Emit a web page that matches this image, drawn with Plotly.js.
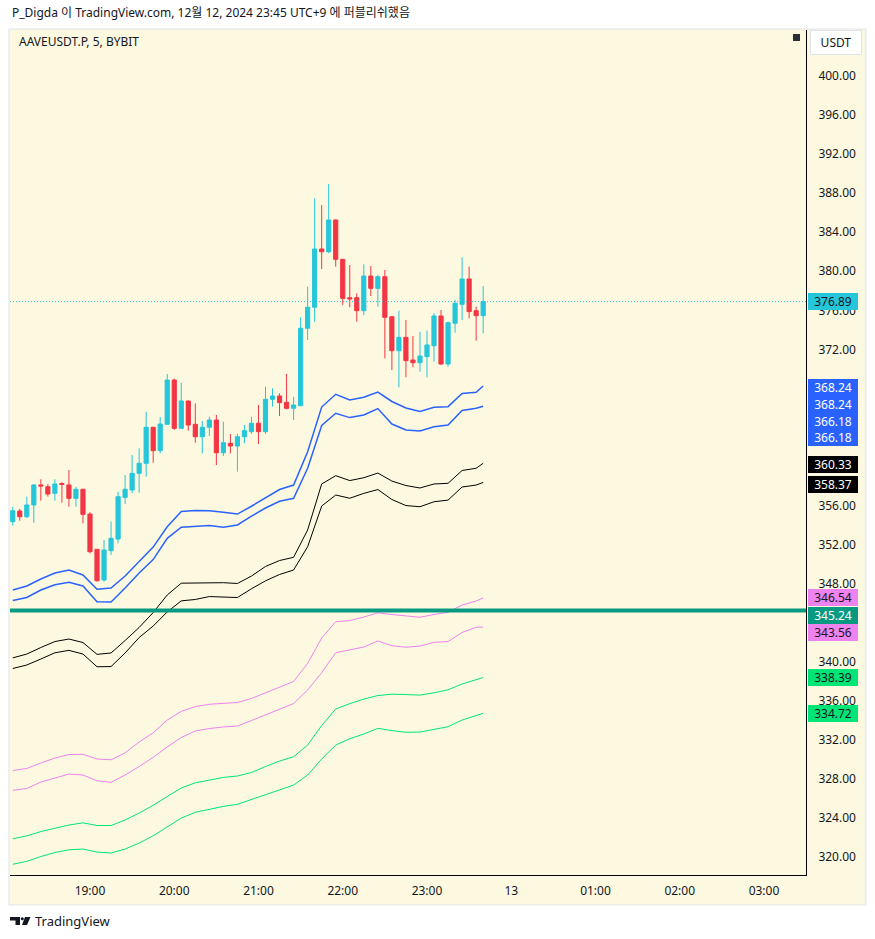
<!DOCTYPE html>
<html>
<head>
<meta charset="utf-8">
<script src="https://cdn.plot.ly/plotly-3.0.1.min.js"></script>
<style>
  html, body { margin: 0; padding: 0; background: #ffffff; }
  #chart { width: 875px; height: 939px; }
</style>
</head>
<body>
<div id="chart"></div>
<script>
// 5-minute bars, AAVEUSDT.P (BYBIT), 12 Dec 2024
const barTimes = ('18:05 18:10 18:15 18:20 18:25 18:30 18:35 18:40 18:45 18:50 18:55 ' +
  '19:00 19:05 19:10 19:15 19:20 19:25 19:30 19:35 19:40 19:45 19:50 19:55 ' +
  '20:00 20:05 20:10 20:15 20:20 20:25 20:30 20:35 20:40 20:45 20:50 20:55 ' +
  '21:00 21:05 21:10 21:15 21:20 21:25 21:30 21:35 21:40 21:45 21:50 21:55 ' +
  '22:00 22:05 22:10 22:15 22:20 22:25 22:30 22:35 22:40 22:45 22:50 22:55 ' +
  '23:00 23:05 23:10 23:15 23:20 23:25 23:30 23:35 23:40').split(' ');

const open = [354.35, 355.44, 354.86, 356.06, 358.11, 357.93, 357.26, 358.26, 358.11, 356.74, 357.67,
  355.13, 351.52, 348.37, 351.38, 352.57, 356.83, 357.59, 359.30, 360.33, 364.02, 361.62, 364.32,
  368.86, 363.91, 366.71, 364.32, 363.05, 364.02, 364.76, 361.41, 362.38, 362.10, 363.05, 363.57,
  364.43, 363.57, 366.88, 367.22, 366.58, 365.96, 366.23, 374.16, 376.31, 382.28, 382.00, 385.25,
  381.22, 377.29, 377.29, 375.96, 379.51, 378.25, 379.44, 375.34, 371.86, 373.23, 370.91, 370.63,
  371.25, 372.37, 375.42, 370.50, 374.67, 376.61, 379.21, 375.96, 375.45];
const high = [355.88, 355.65, 356.91, 358.21, 358.69, 358.21, 358.69, 358.38, 359.64, 357.93, 357.70,
  355.31, 351.55, 352.47, 354.35, 357.42, 359.13, 361.18, 361.86, 365.61, 364.05, 365.07, 369.48,
  369.00, 368.58, 366.75, 366.47, 364.66, 365.10, 365.28, 364.59, 363.33, 363.33, 364.25, 365.10,
  366.30, 368.17, 368.01, 367.50, 369.48, 367.15, 375.28, 378.42, 387.47, 386.79, 388.94, 385.30,
  381.25, 380.64, 377.74, 380.71, 380.54, 379.62, 380.13, 375.36, 375.96, 375.01, 373.37, 373.81,
  373.91, 375.69, 376.03, 374.83, 377.06, 381.43, 380.47, 376.37, 378.49];
const low = [353.94, 354.45, 354.73, 354.24, 356.50, 356.91, 356.50, 356.29, 355.88, 355.88, 354.18,
  351.11, 348.22, 348.20, 350.94, 352.13, 356.16, 357.26, 357.32, 358.96, 360.39, 361.35, 364.30,
  363.74, 363.88, 363.67, 362.44, 361.35, 363.13, 360.15, 361.08, 361.35, 359.47, 362.38, 363.33,
  362.31, 363.33, 366.13, 365.17, 365.86, 364.76, 366.20, 372.96, 374.83, 380.23, 381.84, 380.47,
  376.54, 376.31, 374.83, 375.52, 377.46, 376.37, 371.08, 369.88, 368.11, 369.14, 370.16, 369.71,
  369.14, 370.74, 370.40, 370.22, 373.71, 375.01, 375.18, 372.89, 373.64];
const close = [355.47, 354.86, 356.06, 358.11, 358.00, 357.18, 358.21, 358.16, 356.74, 357.67, 355.10,
  351.27, 348.30, 351.45, 352.65, 356.91, 357.67, 359.30, 360.33, 364.02, 361.62, 364.35, 368.86,
  363.91, 366.71, 364.25, 363.05, 364.02, 364.76, 361.41, 362.44, 362.10, 363.05, 363.67, 364.43,
  363.57, 366.88, 367.22, 366.54, 365.96, 366.30, 374.16, 376.31, 382.28, 382.00, 385.25, 381.22,
  377.23, 377.16, 375.96, 379.51, 378.25, 379.44, 375.28, 371.86, 373.23, 370.84, 370.63, 371.32,
  372.45, 375.42, 370.50, 374.73, 376.72, 379.21, 375.86, 375.45, 376.89];

// band readings, one every 10 minutes plus the last bar
const bandTimes = ('18:05 18:15 18:25 18:35 18:45 18:55 19:05 19:15 19:25 19:35 19:45 19:55 ' +
  '20:05 20:15 20:25 20:35 20:45 20:55 21:05 21:15 21:25 21:35 21:45 21:55 ' +
  '22:05 22:15 22:25 22:35 22:45 22:55 23:05 23:15 23:25 23:35 23:40').split(' ');

const blueUpper = [347.35, 347.76, 348.48, 349.09, 349.40, 348.89, 347.42, 347.55, 348.78, 350.22, 351.75, 353.83,
  355.39, 355.49, 355.47, 355.31, 355.13, 355.93, 356.77, 357.64, 358.10, 361.52, 366.09, 367.40,
  366.81, 367.09, 367.63, 366.66, 365.99, 365.63, 366.06, 366.13, 367.48, 367.60, 368.24];
const blueLower = [346.27, 346.58, 347.35, 347.89, 348.14, 347.76, 346.15, 346.12, 347.55, 349.09, 350.47, 352.64,
  353.78, 353.85, 353.96, 353.78, 354.01, 354.91, 355.75, 356.44, 356.74, 359.82, 364.20, 365.45,
  365.01, 365.28, 365.93, 364.35, 363.74, 363.64, 364.08, 364.24, 365.74, 365.96, 366.18];
const blackUpper = [340.40, 340.79, 341.46, 342.07, 342.33, 341.97, 340.76, 340.90, 342.18, 343.51, 345.04, 346.84,
  348.05, 348.09, 348.12, 348.10, 348.02, 348.78, 349.76, 350.37, 350.70, 353.50, 358.21, 359.06,
  358.56, 358.85, 359.33, 358.51, 358.05, 357.80, 358.21, 358.28, 359.59, 359.82, 360.33];
const blackLower = [339.31, 339.67, 340.28, 340.92, 341.17, 340.79, 339.49, 339.51, 340.90, 342.48, 343.66, 345.10,
  346.24, 346.38, 346.68, 346.60, 346.58, 347.48, 348.29, 348.94, 349.40, 351.78, 355.95, 357.08,
  356.75, 357.25, 357.64, 356.62, 356.00, 355.88, 356.39, 356.56, 357.90, 358.10, 358.37];
const violetUpper = [328.86, 329.07, 329.63, 330.14, 330.50, 330.52, 330.04, 329.96, 330.67, 331.78, 332.73, 334.03,
  334.92, 335.41, 335.65, 335.75, 335.83, 336.24, 336.80, 337.44, 337.98, 339.84, 342.43, 344.10,
  344.22, 344.58, 345.01, 344.84, 344.69, 344.56, 344.84, 345.07, 345.81, 346.22, 346.54];
const violetLower = [326.83, 327.02, 327.68, 328.11, 328.50, 328.40, 327.81, 327.65, 328.40, 329.27, 330.21, 331.27,
  332.24, 332.91, 333.16, 333.32, 333.42, 333.98, 334.55, 335.11, 335.72, 337.11, 338.88, 340.93,
  341.24, 341.51, 342.13, 341.64, 341.49, 341.61, 341.99, 342.07, 343.00, 343.53, 343.56];
const greenUpper = [321.87, 322.17, 322.61, 322.97, 323.28, 323.50, 323.23, 323.23, 323.79, 324.51, 325.30, 326.20,
  327.07, 327.60, 327.87, 328.16, 328.30, 328.66, 329.27, 329.83, 330.27, 331.47, 333.47, 335.16,
  335.71, 336.18, 336.54, 336.68, 336.64, 336.59, 336.82, 337.13, 337.72, 338.18, 338.39];
const greenLower = [319.26, 319.56, 320.05, 320.46, 320.74, 320.82, 320.51, 320.41, 320.82, 321.43, 322.18, 323.10,
  323.99, 324.58, 324.87, 325.19, 325.40, 325.88, 326.40, 326.89, 327.37, 328.40, 330.04, 331.47,
  332.12, 332.60, 333.18, 332.95, 332.78, 332.80, 333.06, 333.35, 334.03, 334.49, 334.72];

const levelLine = 345.24;

// price scale labels that are visible (the others sit under the value tags)
const priceTicks = [320, 324, 328, 332, 336, 340, 348, 352, 356, 372, 376, 380, 384, 388, 392, 396, 400];

const timeTicks = ['2024-12-12 19:00', '2024-12-12 20:00', '2024-12-12 21:00', '2024-12-12 22:00',
  '2024-12-12 23:00', '2024-12-13 00:00', '2024-12-13 01:00', '2024-12-13 02:00', '2024-12-13 03:00'];
const timeTickText = ['19:00', '20:00', '21:00', '22:00', '23:00', '13', '01:00', '02:00', '03:00'];

// colours
const UP = '#26c6da', DOWN = '#f23645';
const BLUE = '#2962ff', BLACK = '#000000', VIOLET = '#ee82ee', GREEN = '#00e676', TEAL = '#089981';
const BG = '#fdf9e0', TEXT = '#131722';
const FONT = 'Noto Sans, "Noto Sans CJK KR", sans-serif';

const day = '2024-12-12 ';
const xBars = barTimes.map(t => day + t);
const xBands = bandTimes.map(t => day + t);

// plot area in page pixels
const L = 10, R = 806, T = 30, B = 875;
const px = v => (v - L) / (R - L);
const py = v => (B - v) / (B - T);

function band(y, color, width) {
  return {
    type: 'scatter', mode: 'lines', x: xBands, y: y,
    line: { color: color, width: width, shape: 'linear' },
    hoverinfo: 'skip', showlegend: false
  };
}

const traces = [
  band(greenLower, GREEN, 1),
  band(greenUpper, GREEN, 1),
  band(violetLower, VIOLET, 1),
  band(violetUpper, VIOLET, 1),
  band(blackLower, BLACK, 1),
  band(blackUpper, BLACK, 1),
  band(blueLower, BLUE, 1.5),
  band(blueUpper, BLUE, 1.5),
  {
    type: 'candlestick',
    x: xBars, open: open, high: high, low: low, close: close,
    increasing: { line: { color: UP, width: 1 }, fillcolor: UP },
    decreasing: { line: { color: DOWN, width: 1 }, fillcolor: DOWN },
    whiskerwidth: 0,
    showlegend: false
  }
];

const last = arr => arr[arr.length - 1];

// price tags on the right scale
const tags = [
  { v: last(close), bg: UP, fc: TEXT, dy: 0 },
  { v: last(blueUpper), bg: BLUE, fc: '#ffffff', dy: -1.6 },
  { v: last(blueUpper), bg: BLUE, fc: '#ffffff', dy: -18.3 },
  { v: last(blueLower), bg: BLUE, fc: '#ffffff', dy: -15 },
  { v: last(blueLower), bg: BLUE, fc: '#ffffff', dy: -31.7 },
  { v: last(blackUpper), bg: BLACK, fc: '#ffffff', dy: -1.3 },
  { v: last(blackLower), bg: BLACK, fc: '#ffffff', dy: -1.6 },
  { v: last(violetUpper), bg: VIOLET, fc: TEXT, dy: 0 },
  { v: levelLine, bg: TEAL, fc: '#ffffff', dy: -4.7 },
  { v: last(violetLower), bg: VIOLET, fc: TEXT, dy: -5 },
  { v: last(greenUpper), bg: GREEN, fc: TEXT, dy: 0 },
  { v: last(greenLower), bg: GREEN, fc: TEXT, dy: 0 }
];

const annotations = tags.map(t => ({
  xref: 'paper', yref: 'y', x: px(807.5), y: t.v, yshift: t.dy,
  xanchor: 'left', yanchor: 'middle',
  text: t.v.toFixed(2), showarrow: false,
  bgcolor: t.bg, borderpad: 2, borderwidth: 0,
  width: 46, height: 12.7, align: 'center',
  font: { family: FONT, size: 12, color: t.fc }
}));

annotations.push(
  {
    xref: 'paper', yref: 'paper', x: px(10), y: py(13), xanchor: 'left', yanchor: 'middle',
    text: 'P_Digda 이 TradingView.com, 12월 12, 2024 23:45 UTC+9 에 퍼블리쉬했음',
    showarrow: false, font: { family: FONT, size: 12, color: TEXT }
  },
  {
    xref: 'paper', yref: 'paper', x: px(17), y: py(41), xanchor: 'left', yanchor: 'middle',
    text: 'AAVEUSDT.P, 5, BYBIT', showarrow: false,
    font: { family: FONT, size: 12, color: TEXT }
  },
  {
    xref: 'paper', yref: 'paper', x: px(810), y: py(43), xanchor: 'left', yanchor: 'middle',
    text: 'USDT', showarrow: false, bgcolor: '#ffffff', bordercolor: '#e0e3eb',
    borderwidth: 1, borderpad: 3, width: 44, height: 17,
    font: { family: FONT, size: 12, color: TEXT }
  },
  {
    xref: 'paper', yref: 'paper', x: px(33), y: py(921), xanchor: 'left', yanchor: 'middle',
    text: 'TradingView', showarrow: false,
    font: { family: FONT, size: 13, color: TEXT }
  }
);

function pathPx(points) {
  return 'M ' + points.map(p => px(p[0]) + ',' + py(p[1])).join(' L ') + ' Z';
}

const shapes = [
  // chart panel including both scales
  { type: 'rect', xref: 'paper', yref: 'paper', layer: 'below',
    x0: px(9), x1: px(866), y0: py(29), y1: py(905),
    fillcolor: BG, line: { color: '#e0e3eb', width: 1 } },
  // last price line
  { type: 'line', xref: 'paper', yref: 'y', x0: 0, x1: 1, y0: last(close), y1: last(close),
    line: { color: UP, width: 1, dash: '1px,2px' } },
  // horizontal level
  { type: 'line', xref: 'paper', yref: 'y', x0: 0, x1: 1, y0: levelLine, y1: levelLine,
    line: { color: TEAL, width: 4 } },
  // small square top right
  { type: 'rect', xref: 'paper', yref: 'paper',
    x0: px(793), x1: px(800), y0: py(41), y1: py(34),
    fillcolor: '#2a2e39', line: { width: 0 } },
  // TradingView logo
  { type: 'path', xref: 'paper', yref: 'paper',
    path: pathPx([[10, 917], [20, 917], [20, 925], [15.5, 925], [15.5, 920.5], [10, 920.5]]),
    fillcolor: TEXT, line: { width: 0 } },
  { type: 'circle', xref: 'paper', yref: 'paper',
    x0: px(20.8), x1: px(23.8), y0: py(920.2), y1: py(917.2),
    fillcolor: TEXT, line: { width: 0 } },
  { type: 'path', xref: 'paper', yref: 'paper',
    path: pathPx([[25, 917], [30.5, 917], [27, 925], [22, 925]]),
    fillcolor: TEXT, line: { width: 0 } }
];

const layout = {
  width: 875, height: 939,
  margin: { l: L, r: 875 - R, t: T, b: 939 - B },
  paper_bgcolor: '#ffffff',
  plot_bgcolor: BG,
  font: { family: FONT, size: 12, color: TEXT },
  showlegend: false,
  boxgap: 0.15,
  xaxis: {
    type: 'date',
    range: ['2024-12-12 18:03:02', '2024-12-13 03:29:55'],
    showgrid: false, zeroline: false,
    showline: true, linecolor: '#000000', linewidth: 1,
    ticks: '', tickvals: timeTicks, ticktext: timeTickText,
    tickfont: { family: FONT, size: 12, color: TEXT },
    ticklabelstandoff: 5,
    rangeslider: { visible: false },
    fixedrange: true
  },
  yaxis: {
    side: 'right',
    range: [318.16, 404.71],
    showgrid: false, zeroline: false,
    showline: true, linecolor: '#000000', linewidth: 1,
    ticks: '', tickvals: priceTicks, tickformat: '.2f',
    tickfont: { family: FONT, size: 12, color: TEXT },
    ticklabelstandoff: 9,
    fixedrange: true
  },
  shapes: shapes,
  annotations: annotations
};

Plotly.newPlot('chart', traces, layout, { displayModeBar: false, staticPlot: true });
</script>
</body>
</html>
